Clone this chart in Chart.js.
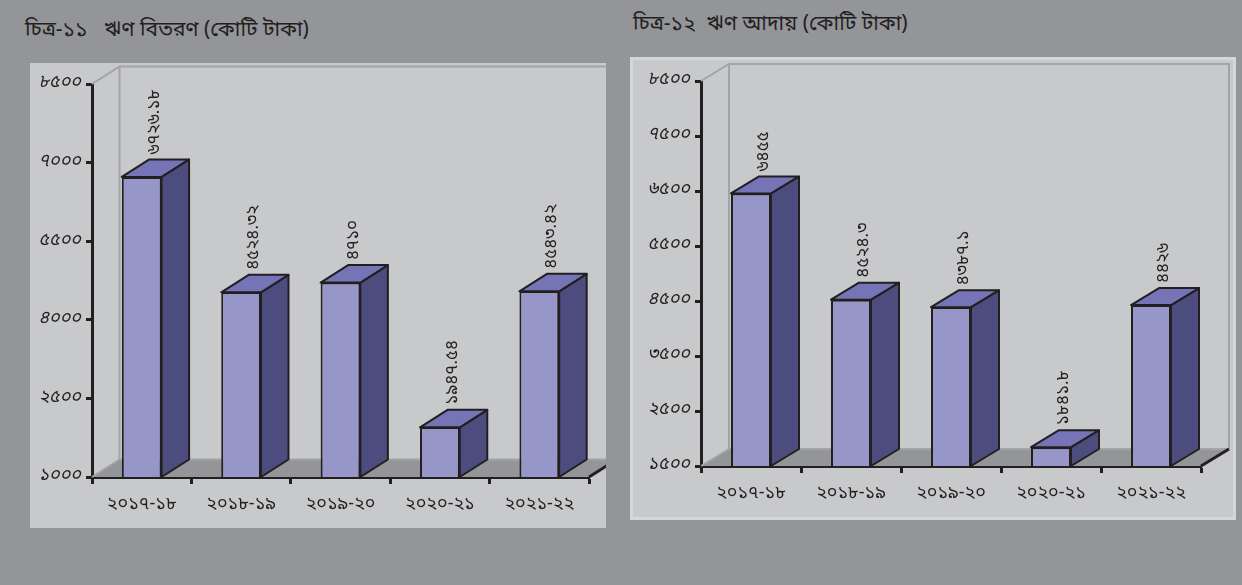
<!DOCTYPE html>
<html>
<head>
<meta charset="utf-8">
<script src="https://cdn.jsdelivr.net/npm/chart.js@4/dist/chart.umd.min.js"></script>
<style>
body { margin:0; background:#939598; width:1242px; height:585px; position:relative; overflow:hidden;
  font-family:"Noto Sans Bengali","Noto Serif Bengali","Lohit Bengali","Noto Sans",sans-serif; }
.title { position:absolute; font-size:21px; color:#231f20; white-space:pre; }
#t1 { left:25px; top:17px; }
#t2 { left:633px; top:11px; }
.panel { position:absolute; background:#c8c9cb; }
#p1 { left:30px; top:63px; width:576px; height:465px; }
#p2 { left:630px; top:57px; width:600px; height:457px; border:3px solid #d5d6d8; }
</style>
</head>
<body>
<div class="title" id="t1">চিত্র-১১   ঋণ বিতরণ (কোটি টাকা)</div>
<div class="title" id="t2">চিত্র-১২  ঋণ আদায় (কোটি টাকা)</div>
<div class="panel" id="p1"><canvas id="c1" width="576" height="465"></canvas></div>
<div class="panel" id="p2"><canvas id="c2" width="600" height="457"></canvas></div>
<script>
// অর্থবছর
var years = ['২০১৭-১৮', '২০১৮-১৯', '২০১৯-২০', '২০২০-২১', '২০২১-২২'];
// ঋণ বিতরণ (কোটি টাকা)
var disbursed = [6726.18, 4524.32, 4710, 1947.54, 4543.42];
// ঋণ আদায় (কোটি টাকা)
var recovered = [6455, 4524.3, 4387.1, 1841.8, 4426];
var ticks1 = [1000, 2500, 4000, 5500, 7000, 8500];
var ticks2 = [1500, 2500, 3500, 4500, 5500, 6500, 7500, 8500];

var BN = '০১২৩৪৫৬৭৮৯';
function bn(v) {
    return String(v).replace(/[0-9]/g, function(d) { return BN[+d]; });
}

var FONT = '"Noto Sans Bengali","Noto Serif Bengali","Lohit Bengali","Noto Sans",sans-serif';
Chart.defaults.font.family = FONT;
Chart.defaults.color = '#231f20';

// 3D বাক্স আঁকার প্লাগইন
function box3d(dx, dy) {
    return {
        id: 'box3d',
        beforeDatasetsDraw: function(chart) {
            var ctx = chart.ctx, a = chart.chartArea;
            ctx.save();
            ctx.fillStyle = '#949598';
            ctx.beginPath();
            ctx.moveTo(a.left, a.bottom);
            ctx.lineTo(a.right, a.bottom);
            ctx.lineTo(a.right + dx, a.bottom + dy);
            ctx.lineTo(a.left + dx, a.bottom + dy);
            ctx.closePath();
            ctx.fill();
            ctx.strokeStyle = '#a3a4a7';
            ctx.lineWidth = 2;
            ctx.beginPath();
            ctx.moveTo(a.left, a.top);
            ctx.lineTo(a.left + dx, a.top + dy);
            ctx.lineTo(a.right + dx, a.top + dy);
            ctx.lineTo(a.right + dx, a.bottom + dy);
            ctx.moveTo(a.left + dx, a.top + dy);
            ctx.lineTo(a.left + dx, a.bottom + dy);
            ctx.lineTo(a.right + dx, a.bottom + dy);
            ctx.moveTo(a.left, a.bottom);
            ctx.lineTo(a.left + dx, a.bottom + dy);
            ctx.stroke();
            ctx.strokeStyle = '#231f20';
            ctx.lineWidth = 3;
            ctx.beginPath();
            ctx.moveTo(a.right, a.bottom);
            ctx.lineTo(a.right + dx, a.bottom + dy);
            ctx.stroke();
            ctx.restore();
        },
        afterDatasetsDraw: function(chart) {
            var ctx = chart.ctx, a = chart.chartArea;
            var meta = chart.getDatasetMeta(0);
            var values = chart.data.datasets[0].data;
            ctx.save();
            ctx.lineJoin = 'round';
            ctx.lineWidth = 2;
            ctx.strokeStyle = '#231f20';
            meta.data.forEach(function(bar, i) {
                var l = bar.x - bar.width / 2, r = bar.x + bar.width / 2;
                var t = bar.y, b = Math.min(bar.base, a.bottom);
                // side
                ctx.fillStyle = '#4c4c7e';
                ctx.beginPath();
                ctx.moveTo(r, t); ctx.lineTo(r + dx, t + dy);
                ctx.lineTo(r + dx, b + dy); ctx.lineTo(r, b);
                ctx.closePath(); ctx.fill(); ctx.stroke();
                // top
                ctx.fillStyle = '#7474b6';
                ctx.beginPath();
                ctx.moveTo(l, t); ctx.lineTo(r, t);
                ctx.lineTo(r + dx, t + dy); ctx.lineTo(l + dx, t + dy);
                ctx.closePath(); ctx.fill(); ctx.stroke();
                // value label
                ctx.save();
                ctx.translate(bar.x + dx / 2, t + dy - 5);
                ctx.rotate(-Math.PI / 2);
                ctx.fillStyle = '#231f20';
                ctx.font = '17px ' + FONT;
                ctx.textAlign = 'left';
                ctx.textBaseline = 'middle';
                ctx.fillText(bn(values[i]), 0, 0);
                ctx.restore();
            });
            ctx.restore();
        }
    };
}

function makeChart(id, values, tickVals, pad, yWidth, xHeight, dx, dy) {
    var ctx = document.getElementById(id).getContext('2d');
    return new Chart(ctx, {
        type: 'bar',
        data: {
            labels: years,
            datasets: [{
                data: values,
                backgroundColor: '#9696c9',
                borderColor: '#231f20',
                borderWidth: 2,
                borderSkipped: false,
                barPercentage: 0.8,
                categoryPercentage: 0.5
            }]
        },
        options: {
            responsive: false,
            animation: false,
            devicePixelRatio: 1,
            layout: { padding: pad },
            plugins: { legend: { display: false }, tooltip: { enabled: false } },
            scales: {
                x: {
                    afterFit: function(s) { s.height = xHeight; },
                    border: { color: '#231f20', width: 3 },
                    grid: { display: true, drawOnChartArea: false, tickLength: 7, tickWidth: 3, tickColor: '#231f20' },
                    ticks: { padding: 11, font: { size: 18 }, color: '#231f20', maxRotation: 0, autoSkip: false }
                },
                y: {
                    min: tickVals[0],
                    max: tickVals[tickVals.length - 1],
                    afterFit: function(s) { s.width = yWidth; },
                    afterBuildTicks: function(s) {
                        s.ticks = tickVals.map(function(v) { return { value: v }; });
                    },
                    border: { color: '#231f20', width: 3 },
                    grid: { display: true, drawOnChartArea: false, tickLength: 6, tickWidth: 3, tickColor: '#231f20' },
                    ticks: {
                        padding: 5,
                        font: { size: 18, style: 'italic' },
                        color: '#231f20',
                        callback: function(v) { return bn(v); }
                    }
                }
            }
        },
        plugins: [box3d(dx, dy)]
    });
}

makeChart('c1', disbursed, ticks1, { left: 0, right: 17, top: 21, bottom: 0 }, 62, 51, 27.5, -17.5);
makeChart('c2', recovered, ticks2, { left: 0, right: 32, top: 21, bottom: 0 }, 68, 51, 28, -17);
</script>
</body>
</html>
